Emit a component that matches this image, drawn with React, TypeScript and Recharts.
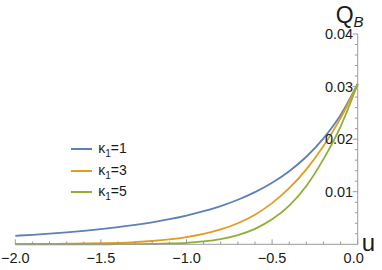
import React from 'react';
import { LineChart, Line, XAxis, YAxis, Legend } from 'recharts';

const uValues = [-2.0, -1.9, -1.8, -1.7, -1.6, -1.5, -1.4, -1.3, -1.2, -1.1, -1.0, -0.9, -0.8, -0.7, -0.6, -0.5, -0.4, -0.3, -0.2, -0.1, 0.0];
const kappa1Values = [0.00162, 0.00181, 0.00202, 0.00227, 0.00255, 0.00287, 0.00325, 0.00368, 0.00418, 0.00477, 0.00547, 0.00629, 0.00728, 0.00848, 0.00993, 0.01171, 0.01391, 0.01665, 0.02014, 0.02459, 0.0305];
const kappa3Values = [0.00005, 0.00006, 0.00008, 0.00011, 0.00015, 0.0002, 0.00028, 0.00042, 0.00063, 0.00093, 0.00136, 0.00197, 0.00282, 0.00401, 0.00563, 0.00783, 0.01067, 0.01426, 0.0187, 0.024, 0.0305];
const kappa5Values = [0.00001, 0.00001, 0.00001, 0.00001, 0.00001, 0.00001, 0.00002, 0.00003, 0.00007, 0.00015, 0.00029, 0.00055, 0.001, 0.00175, 0.00294, 0.00475, 0.00737, 0.0111, 0.0162, 0.0224, 0.0305];

const seriesKeys = ['k1', 'k3', 'k5'];
const seriesNames = ['1', '3', '5'];
const seriesColors = ['#5E81B5', '#E19C24', '#8FB032'];

const xTicks = [-2.0, -1.9, -1.8, -1.7, -1.6, -1.5, -1.4, -1.3, -1.2, -1.1, -1.0, -0.9, -0.8, -0.7, -0.6, -0.5, -0.4, -0.3, -0.2, -0.1, 0.0];
const xMajor = [-2.0, -1.5, -1.0, -0.5, 0.0];
const xLabels = ['\u22122.0', '\u22121.5', '\u22121.0', '\u22120.5', '0.0'];
const yTicks = [0.002, 0.004, 0.006, 0.008, 0.01, 0.012, 0.014, 0.016, 0.018, 0.02, 0.022, 0.024, 0.026, 0.028, 0.03, 0.032, 0.034, 0.036, 0.038, 0.04];
const yMajor = [0.01, 0.02, 0.03, 0.04];
const yLabels = ['0.01', '0.02', '0.03', '0.04'];

const data = uValues.map((u, i) => ({
  u,
  k1: kappa1Values[i],
  k3: kappa3Values[i],
  k5: kappa5Values[i],
}));

const AXIS = '#9a9a9a';
const TEXT = '#1a1a1a';
const FONT = '"Liberation Sans", Arial, sans-serif';

const findIdx = (arr: number[], v: number) => arr.findIndex((m) => Math.abs(m - v) < 1e-9);

const XTick = (props: any) => {
  const { x, y, payload } = props;
  const idx = findIdx(xMajor, payload.value);
  const major = idx >= 0;
  const dx = idx === xMajor.length - 1 ? -4 : 0;
  return (
    <g>
      <line x1={x} x2={x} y1={y} y2={y - (major ? 5 : 2.8)} stroke={AXIS} strokeWidth={1} />
      {major && (
        <text x={x + dx} y={y + 18.5} textAnchor="middle" fontSize={14.5} fontFamily={FONT} fill={TEXT}>
          {xLabels[idx]}
        </text>
      )}
    </g>
  );
};

const YTick = (props: any) => {
  const { x, y, payload } = props;
  const idx = findIdx(yMajor, payload.value);
  const major = idx >= 0;
  return (
    <g>
      <line x1={x} x2={x - (major ? 5 : 2.8)} y1={y} y2={y} stroke={AXIS} strokeWidth={1} />
      {major && (
        <text x={x - 4.5} y={y + 5} textAnchor="end" fontSize={14.5} fontFamily={FONT} fill={TEXT}>
          {yLabels[idx]}
        </text>
      )}
    </g>
  );
};

const XLabel = (props: any) => {
  const vb = props.viewBox || {};
  return (
    <text x={vb.x + vb.width + 4} y={vb.y + 7} fontSize={24} fontFamily={FONT} fill={TEXT}>
      u
    </text>
  );
};

const YLabel = (props: any) => {
  const vb = props.viewBox || {};
  return (
    <text x={vb.x - 22} y={vb.y - 11.5} fontSize={23} fontFamily={FONT} fill={TEXT}>
      <tspan>Q</tspan>
      <tspan fontSize={15} dy={4} fontStyle="italic">B</tspan>
    </text>
  );
};

const LegendContent = (props: any) => {
  const payload = props.payload || [];
  return (
    <div style={{ fontFamily: FONT, fontSize: 14, color: TEXT }}>
      {payload.map((entry: any, i: number) => (
        <div key={i} style={{ display: 'flex', alignItems: 'center', height: 21.5 }}>
          <svg width={21} height={4} style={{ marginRight: 6.5 }}>
            <line x1={0} x2={21} y1={2} y2={2} stroke={entry.color} strokeWidth={2} />
          </svg>
          <span style={{ lineHeight: '16px' }}>
            κ<span style={{ fontSize: 10, position: 'relative', top: 4 }}>1</span>={entry.value}
          </span>
        </div>
      ))}
    </div>
  );
};

export default function App() {
  return (
    <div style={{ position: 'absolute', left: 0, top: 0, width: 382, height: 270, background: '#fff' }}>
      <LineChart width={382} height={270} data={data} margin={{ top: 34, right: 23.3, bottom: 0, left: 15.3 }}>
        <XAxis
          dataKey="u"
          type="number"
          domain={[-2, 0]}
          ticks={xTicks}
          interval={0}
          tickSize={0}
          tickMargin={0}
          tickLine={false}
          axisLine={{ stroke: AXIS }}
          tick={(p: any) => <XTick {...p} />}
          height={25.7}
          label={{ content: (p: any) => <XLabel {...p} /> }}
        />
        <YAxis
          orientation="right"
          width={1}
          type="number"
          domain={[0, 0.04]}
          ticks={yTicks}
          interval={0}
          tickSize={0}
          tickMargin={0}
          tickLine={false}
          axisLine={{ stroke: AXIS }}
          tick={(p: any) => <YTick {...p} />}
          label={{ content: (p: any) => <YLabel {...p} /> }}
        />
        <Legend
          layout="vertical"
          align="center"
          verticalAlign="middle"
          content={(p: any) => <LegendContent {...p} />}
          wrapperStyle={{ left: 70.7, top: 138.5, width: 'auto', height: 'auto' }}
        />
        {seriesKeys.map((k, i) => (
          <Line
            key={k}
            type="monotone"
            dataKey={k}
            name={seriesNames[i]}
            stroke={seriesColors[i]}
            strokeWidth={1.8}
            dot={false}
            isAnimationActive={false}
          />
        ))}
      </LineChart>
    </div>
  );
}
